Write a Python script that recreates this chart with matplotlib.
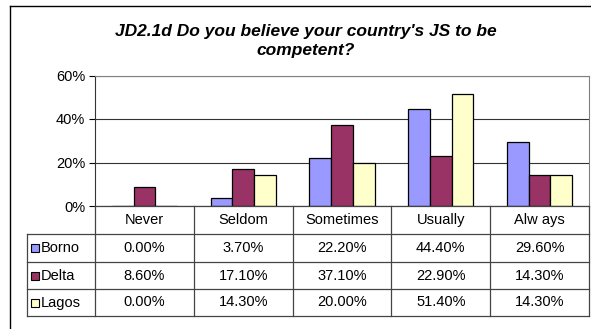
import matplotlib
matplotlib.use("Agg")
import matplotlib.pyplot as plt
import numpy as np
from matplotlib.lines import Line2D
from matplotlib.patches import Rectangle

# -------------------------------------------------------------
# DATA
# -------------------------------------------------------------
categories = ["Never", "Seldom", "Sometimes", "Usually", "Alw ays"]
series_names = ["Borno", "Delta", "Lagos"]
borno = [0.0, 3.7, 22.2, 44.4, 29.6]
delta = [8.6, 17.1, 37.1, 22.9, 14.3]
lagos = [0.0, 14.3, 20.0, 51.4, 14.3]
yticks = [0, 20, 40, 60]
title = "JD2.1d Do you believe your country's JS to be\ncompetent?"

colors = ["#9999FF", "#993366", "#FFFFCC"]
series = [borno, delta, lagos]

W, H = 591, 329
fig = plt.figure(figsize=(W / 100, H / 100), dpi=100)
plt.rcParams["font.family"] = ["Liberation Sans", "DejaVu Sans"]


def fx(px):
    return px / W


def fy(py):
    return 1 - py / H


# outer frame (right/bottom run off the picture)
fig.add_artist(Line2D([fx(10), fx(10)], [fy(6), fy(340)], color="black", lw=1.0))
fig.add_artist(Line2D([fx(10), fx(600)], [fy(6), fy(6)], color="black", lw=1.0))

# plot area
left, right, top, bottom = 95, 589, 75.5, 206
ax = fig.add_axes([fx(left), fy(bottom), fx(right - left), (bottom - top) / H])
x = np.arange(len(categories))
bw = 0.22
for i, (vals, c) in enumerate(zip(series, colors)):
    ax.bar(x + (i - 1) * bw, vals, bw, color=c, edgecolor="black", linewidth=0.9, zorder=3)

ax.set_xlim(-0.5, len(categories) - 0.5)
ax.set_ylim(0, 60)
ax.set_yticks(yticks)
ax.set_yticklabels([f"{t}%" for t in yticks], fontsize=10.5)
ax.set_xticks([])
ax.yaxis.grid(True, color="#333333", lw=0.8, zorder=0)
ax.tick_params(axis="y", length=4, width=0.8, pad=3)
for side in ["top", "right"]:
    ax.spines[side].set_color("#808080")
ax.spines["left"].set_color("#333333")
ax.spines["bottom"].set_visible(False)

fig.text(fx(306), fy(41), title, ha="center", va="center", fontsize=12.5,
         fontweight="bold", fontstyle="italic", linespacing=1.3)

# data table below the plot
col_edges = [27] + [left + (right - left) * k / len(categories) for k in range(len(categories) + 1)]
row_edges = [206, 234, 262, 289, 316]
gc = "#444444"
# vertical lines
for k, xe in enumerate(col_edges):
    y0 = row_edges[1] if k == 0 else row_edges[0]
    fig.add_artist(Line2D([fx(xe), fx(xe)], [fy(y0), fy(row_edges[-1])], color=gc, lw=0.9))
# horizontal lines
for k, ye in enumerate(row_edges):
    x0 = col_edges[1] if k == 0 else col_edges[0]
    fig.add_artist(Line2D([fx(x0), fx(col_edges[-1])], [fy(ye), fy(ye)], color=gc, lw=0.9))

fs = 10.5
for j, cat in enumerate(categories):
    cx = (col_edges[j + 1] + col_edges[j + 2]) / 2
    fig.text(fx(cx), fy((row_edges[0] + row_edges[1]) / 2), cat, ha="center", va="center", fontsize=fs)
for i, (name, vals, c) in enumerate(zip(series_names, series, colors)):
    cy = (row_edges[i + 1] + row_edges[i + 2]) / 2
    fig.add_artist(Rectangle((fx(31), fy(cy + 4)), fx(8), 8 / H, facecolor=c,
                             edgecolor="black", lw=0.8))
    fig.text(fx(41), fy(cy), name, ha="left", va="center", fontsize=fs)
    for j, v in enumerate(vals):
        cx = (col_edges[j + 1] + col_edges[j + 2]) / 2
        fig.text(fx(cx), fy(cy), f"{v:.2f}%", ha="center", va="center", fontsize=fs)

fig.savefig("out.png", dpi=100)
